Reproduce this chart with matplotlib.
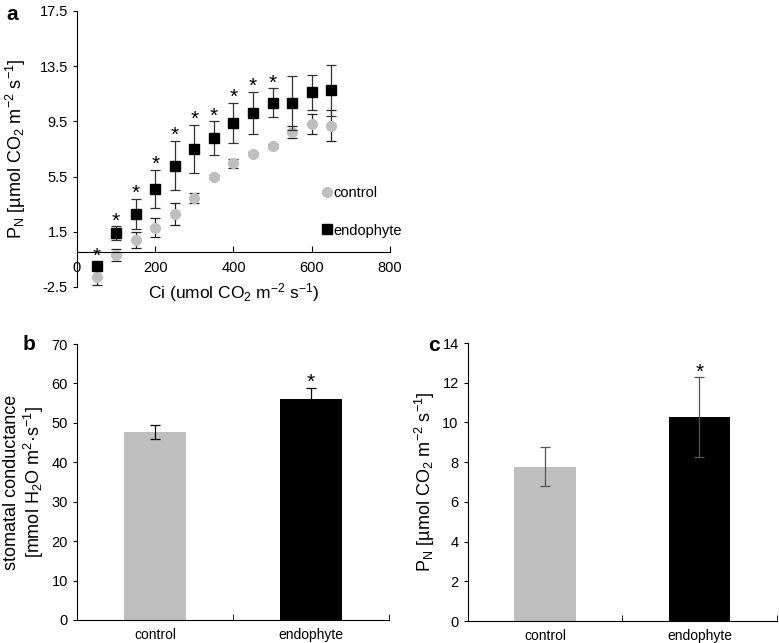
"""Endophyte vs control: A/Ci curve, stomatal conductance and net photosynthesis."""
import matplotlib
matplotlib.use("Agg")
import matplotlib.pyplot as plt
import numpy as np

plt.rcParams["font.family"] = ["Liberation Sans", "DejaVu Sans"]
plt.rcParams["mathtext.fontset"] = "custom"
plt.rcParams["mathtext.rm"] = "Liberation Sans"
plt.rcParams["mathtext.it"] = "Liberation Sans"
plt.rcParams["axes.unicode_minus"] = False

# ----- data -----
ci = [50, 100, 150, 200, 250, 300, 350, 400, 450, 500, 550, 600, 650]
pn_endo = [-1.0, 1.4, 2.8, 4.6, 6.3, 7.5, 8.3, 9.4, 10.1, 10.85, 10.85, 11.6, 11.75]
pn_endo_err = [0.3, 0.5, 1.1, 1.4, 1.8, 1.75, 1.2, 1.45, 1.55, 1.05, 1.95, 1.25, 1.85]
pn_ctrl = [-1.75, -0.2, 0.9, 1.8, 2.8, 3.95, 5.5, 6.45, 7.15, 7.7, 8.75, 9.3, 9.2]
pn_ctrl_err = [0.6, 0.45, 0.6, 0.7, 0.8, 0.37, 0.1, 0.35, 0.1, 0.15, 0.45, 0.75, 1.15]
signif = [True] * 10 + [False] * 3

groups = ["control", "endophyte"]
gs = [47.7, 56.0]
gs_err = [1.85, 2.8]
pn_bar = [7.78, 10.28]
pn_bar_err = [1.0, 2.0]
bar_sig = [False, True]

GRAY = "#bfbfbf"
PN_LABEL = r"P$_{\mathrm{N}}$ [µmol CO$_2$ m$^{\mathrm{-2}}$ s$^{\mathrm{-1}}$]"

fig = plt.figure(figsize=(7.79, 6.43), dpi=100)

# ----- a: A/Ci curve -----
ax = fig.add_axes([0.0988, 0.5537, 0.4018, 0.4292])
ax.errorbar(ci, pn_ctrl, yerr=pn_ctrl_err, fmt="none",
            ecolor="#222222", elinewidth=0.9, capsize=3.5, capthick=0.9, zorder=2)
ax.plot(ci, pn_ctrl, "o", color=GRAY, ms=7, label="control", zorder=2.5)
ax.errorbar(ci, pn_endo, yerr=pn_endo_err, fmt="none",
            ecolor="#333333", elinewidth=0.9, capsize=3.5, capthick=0.9, zorder=3)
ax.plot(ci, pn_endo, "s", color="black", ms=7.5, label="endophyte", zorder=3.5)
for x, y, e, s in zip(ci, pn_endo, pn_endo_err, signif):
    if s:
        ax.annotate("*", (x, y + e), xytext=(0, -3), textcoords="offset points",
                    ha="center", va="bottom", fontsize=15)
ax.set_xlim(0, 800); ax.set_ylim(-2.5, 17.5)
ax.set_xticks(np.arange(0, 801, 200))
ax.set_yticks(np.arange(-2.5, 17.6, 4))
ax.set_yticklabels([f"{v:.1f}" for v in np.arange(-2.5, 17.6, 4)])
ax.spines[["top", "right"]].set_visible(False)
ax.spines["bottom"].set_position(("data", 0))
ax.tick_params(axis="x", direction="in", length=4, labelsize=10.5, pad=6)
ax.tick_params(axis="y", direction="out", length=3, labelsize=10.5)
ax.set_xlabel(r"Ci (umol CO$_2$ m$^{\mathrm{-2}}$ s$^{\mathrm{-1}}$)", fontsize=12.5)
ax.xaxis.set_label_coords(0.5, 0.02)
ax.set_ylabel(PN_LABEL, fontsize=13)
ax.yaxis.set_label_coords(-0.155, 0.5)
ax.legend(loc="center left", bbox_to_anchor=(0.765, 0.272), frameon=False,
          fontsize=10.5, handlelength=0.5, handletextpad=0.15, borderpad=0,
          labelspacing=1.6)

# ----- b/c: bar panels -----
def bar_panel(rect, vals, errs, ecolor, ylim, yticks, ylabel, label_x):
    ax = fig.add_axes(rect)
    x = np.arange(len(groups))
    ax.bar(x, vals, width=0.4, color=[GRAY, "black"])
    ax.errorbar(x, vals, yerr=errs, fmt="none", ecolor=ecolor,
                elinewidth=0.9, capsize=3.5, capthick=0.9)
    for xi, v, e, s in zip(x, vals, errs, bar_sig):
        if s:
            ax.annotate("*", (xi, v + e), xytext=(0, -3),
                        textcoords="offset points", ha="center",
                        va="bottom", fontsize=15)
    ax.set_xlim(-0.5, 1.5); ax.set_ylim(*ylim)
    ax.set_yticks(yticks)
    ax.set_xticks(x); ax.set_xticklabels(groups)
    ax.set_xticks([-0.5, 0.5, 1.5], minor=True)
    ax.tick_params(axis="x", which="major", length=0, labelsize=10, pad=6)
    ax.tick_params(axis="x", which="minor", direction="in", length=4)
    ax.tick_params(axis="y", direction="out", length=3, labelsize=10.5)
    ax.spines[["top", "right"]].set_visible(False)
    ax.set_ylabel(ylabel, fontsize=13, linespacing=1.1)
    ax.yaxis.set_label_coords(label_x, 0.5)
    return ax

bar_panel([0.0988, 0.0358, 0.4006, 0.4292], gs, gs_err, "black",
          (0, 70), np.arange(0, 71, 10),
          "stomatal conductance\n" r"[mmol H$_2$O m$^{2}$·s$^{\mathrm{-1}}$]", -0.1)
bar_panel([0.6004, 0.0342, 0.3967, 0.4323], pn_bar, pn_bar_err, "#555555",
          (0, 14), np.arange(0, 15, 2), PN_LABEL, -0.1)

# panel letters
for txt, x, y in [("a", 12, 14), ("b", 29, 345), ("c", 434, 346)]:
    fig.text(x / 779, 1 - y / 643, txt, fontsize=15, fontweight="bold",
             ha="center", va="center")

fig.savefig("out.png", dpi=100)
